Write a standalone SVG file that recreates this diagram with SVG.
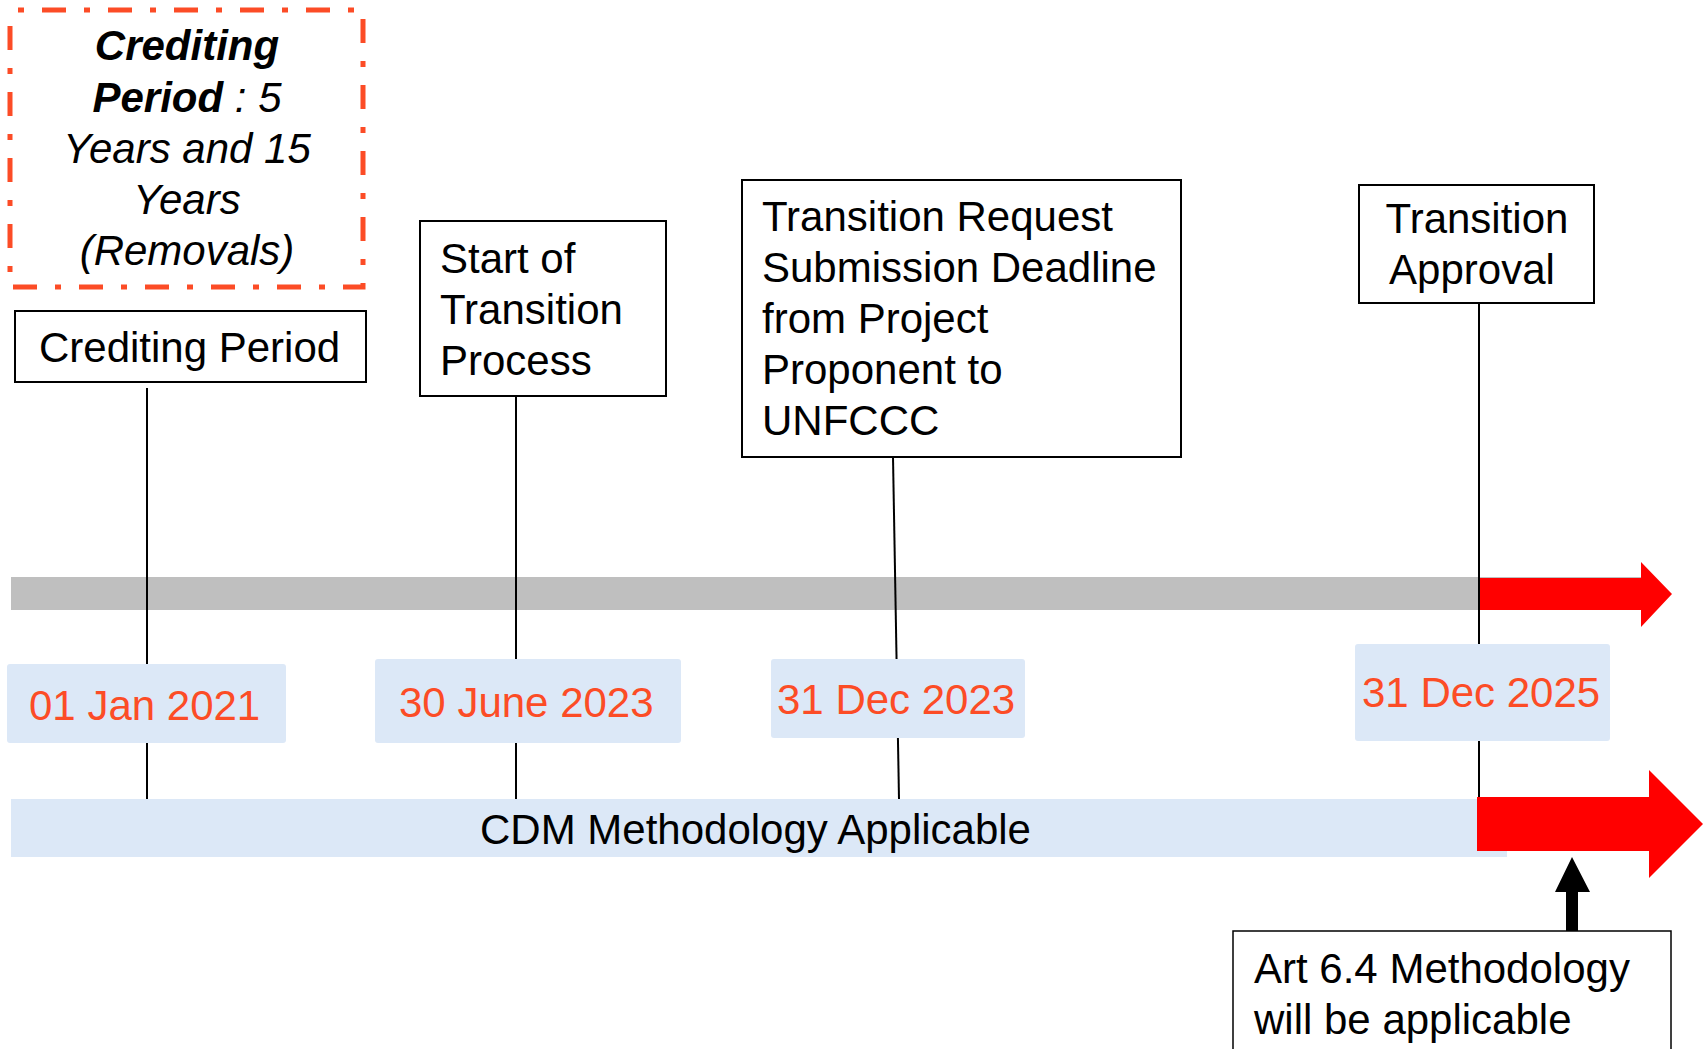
<svg xmlns="http://www.w3.org/2000/svg" width="1705" height="1049" viewBox="0 0 1705 1049">
<style>
text{font-family:"Liberation Sans",Arial,sans-serif;font-size:42px;fill:#000}
.date{fill:#FC4C26}
.box{fill:#fff;stroke:#000;stroke-width:2}
.dbox{fill:#DCE8F7}
.tick{stroke:#000;stroke-width:2;fill:none}
</style>
<rect width="1705" height="1049" fill="#fff"/>
<g id="crediting-note">
<rect x="10" y="10" width="353" height="277" fill="none" stroke="#FC4C26" stroke-width="5" stroke-dasharray="24 18 6 18" stroke-dashoffset="34"/>
<text x="187" y="60" text-anchor="middle" font-style="italic" font-weight="bold">Crediting</text>
<text x="187" y="112" text-anchor="middle" font-style="italic"><tspan font-weight="bold">Period</tspan> : 5</text>
<text x="187" y="163" text-anchor="middle" font-style="italic">Years and 15</text>
<text x="187" y="214" text-anchor="middle" font-style="italic">Years</text>
<text x="187" y="265" text-anchor="middle" font-style="italic">(Removals)</text>
</g>
<g id="timeline-bar">
<rect x="11" y="577" width="1630" height="33" fill="#BFBFBF"/>
<polygon points="1478,578 1641,578 1641,562 1672,594 1641,627 1641,610 1478,610" fill="#FF0000"/>
</g>
<g id="connectors">
<line class="tick" x1="147" y1="388" x2="147" y2="799"/>
<line class="tick" x1="516" y1="396" x2="516" y2="799"/>
<line class="tick" x1="893" y1="457" x2="899" y2="799"/>
<line class="tick" x1="1479" y1="303" x2="1479" y2="797"/>
<polygon points="1566,933 1578,933 1578,892 1590,892 1572,857 1555,892 1566,892" fill="#000"/>
</g>
<g id="crediting-period">
<rect class="box" x="15" y="311" width="351" height="71"/>
<text x="39" y="362">Crediting Period</text>
</g>
<g id="start-transition">
<rect class="box" x="420" y="221" width="246" height="175"/>
<text x="440" y="273">Start of</text>
<text x="440" y="324">Transition</text>
<text x="440" y="375">Process</text>
</g>
<g id="transition-request">
<rect class="box" x="742" y="180" width="439" height="277"/>
<text x="762" y="231">Transition Request</text>
<text x="762" y="282">Submission Deadline</text>
<text x="762" y="333">from Project</text>
<text x="762" y="384">Proponent to</text>
<text x="762" y="435">UNFCCC</text>
</g>
<g id="transition-approval">
<rect class="box" x="1359" y="185" width="235" height="118"/>
<text x="1477" y="233" text-anchor="middle">Transition</text>
<text x="1472" y="284" text-anchor="middle">Approval</text>
</g>
<g id="date-2021">
<rect class="dbox" x="7" y="664" width="279" height="79" rx="3"/>
<text class="date" x="29" y="720">01 Jan 2021</text>
</g>
<g id="date-2023-06">
<rect class="dbox" x="375" y="659" width="306" height="84" rx="3"/>
<text class="date" x="399" y="717">30 June 2023</text>
</g>
<g id="date-2023-12">
<rect class="dbox" x="771" y="659" width="254" height="79" rx="3"/>
<text class="date" x="777" y="714">31 Dec 2023</text>
</g>
<g id="date-2025">
<rect class="dbox" x="1355" y="644" width="255" height="97" rx="3"/>
<text class="date" x="1362" y="707">31 Dec 2025</text>
</g>
<g id="cdm-bar">
<rect x="11" y="799" width="1496" height="58" fill="#DCE8F7"/>
<text x="480" y="844">CDM Methodology Applicable</text>
</g>
<g id="art64-arrow">
<polygon points="1477,797 1649,797 1649,770 1703,824 1649,878 1649,851 1477,851" fill="#FF0000"/>
</g>
<g id="art64-note">
<rect x="1233" y="931" width="438" height="130" fill="#fff" stroke="#000" stroke-width="1.5"/>
<text x="1254" y="983">Art 6.4 Methodology</text>
<text x="1254" y="1034">will be applicable</text>
</g>
</svg>
